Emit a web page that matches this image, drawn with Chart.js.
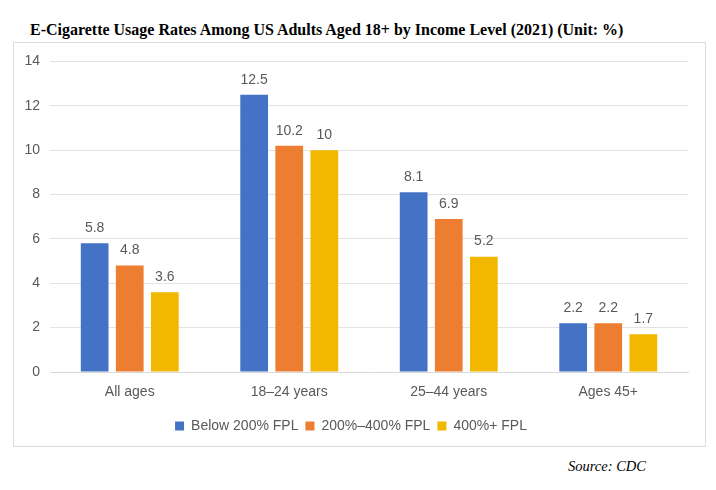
<!DOCTYPE html>
<html>
<head>
<meta charset="utf-8">
<script src="https://cdn.jsdelivr.net/npm/chart.js@4.4.0/dist/chart.umd.min.js"></script>
<style>
  html, body { margin:0; padding:0; background:#fff; }
  body { width:716px; height:490px; position:relative; overflow:hidden; }
  #title { position:absolute; left:30px; top:20px; font-family:"Liberation Serif","Times New Roman",serif; font-weight:bold; font-size:17px; color:#000; white-space:nowrap; transform:scaleX(0.94); transform-origin:0 0; }
  #box { position:absolute; left:13px; top:42px; width:693px; height:405px; border:1px solid #dcdcdc; box-sizing:border-box; }
  #wrap { position:absolute; left:0; top:0; width:691px; height:403px; }
  #source { position:absolute; left:568px; top:458px; font-family:"Liberation Serif","Times New Roman",serif; font-style:italic; font-size:14.5px; color:#000; }
</style>
</head>
<body>
<div id="title">E-Cigarette Usage Rates Among US Adults Aged 18+ by Income Level (2021) (Unit: %)</div>
<div id="box"><div id="wrap"><canvas id="c"></canvas></div></div>
<div id="source">Source: CDC</div>
<script>
const categories = ["All ages", "18\u201324 years", "25\u201344 years", "Ages 45+"];
const seriesNames = ["Below 200% FPL", "200%\u2013400% FPL", "400%+ FPL"];
const below200 = [5.8, 12.5, 8.1, 2.2];
const mid200to400 = [4.8, 10.2, 6.9, 2.2];
const above400 = [3.6, 10, 5.2, 1.7];
const yTicks = [0, 2, 4, 6, 8, 10, 12, 14];
const colors = ["#4472C4", "#ED7D31", "#F2B800"];
const FONT = '"Liberation Sans", Arial, sans-serif';

const valueLabels = {
  id: 'valueLabels',
  afterDatasetsDraw(chart) {
    const ctx = chart.ctx;
    ctx.save();
    ctx.font = '14px ' + FONT;
    ctx.fillStyle = '#595959';
    ctx.textAlign = 'center';
    ctx.textBaseline = 'bottom';
    chart.data.datasets.forEach((ds, i) => {
      const meta = chart.getDatasetMeta(i);
      meta.data.forEach((bar, j) => {
        ctx.fillText(String(ds.data[j]), bar.x, bar.y - 8);
      });
    });
    ctx.restore();
  }
};

new Chart(document.getElementById('c'), {
  type: 'bar',
  data: {
    labels: categories,
    datasets: [
      { label: seriesNames[0], data: below200, backgroundColor: colors[0] },
      { label: seriesNames[1], data: mid200to400, backgroundColor: colors[1] },
      { label: seriesNames[2], data: above400, backgroundColor: colors[2] }
    ]
  },
  options: {
    responsive: true,
    maintainAspectRatio: false,
    animation: false,
    devicePixelRatio: 1,
    layout: { padding: { top: 17, right: 17, bottom: 3, left: 0 } },
    datasets: { bar: { categoryPercentage: 0.66, barPercentage: 0.79 } },
    plugins: {
      legend: {
        position: 'bottom',
        labels: {
          boxWidth: 9, boxHeight: 9, padding: 7,
          color: '#595959',
          font: { family: FONT, size: 14 }
        }
      },
      tooltip: { enabled: false },
      title: { display: false }
    },
    scales: {
      x: {
        grid: { display: false, drawTicks: false },
        border: { display: true, color: '#d9d9d9', width: 1 },
        ticks: { color: '#595959', padding: 12, font: { family: FONT, size: 14 } },
        afterFit(s) { s.height = 40; }
      },
      y: {
        min: 0, max: 14,
        afterBuildTicks(s) { s.ticks = yTicks.map(v => ({ value: v })); },
        grid: { color: '#e3e3e3', drawTicks: false },
        border: { display: false },
        ticks: { color: '#595959', padding: 10, font: { family: FONT, size: 14 } },
        afterFit(s) { s.width = 36; }
      }
    }
  },
  plugins: [valueLabels]
});
</script>
</body>
</html>
